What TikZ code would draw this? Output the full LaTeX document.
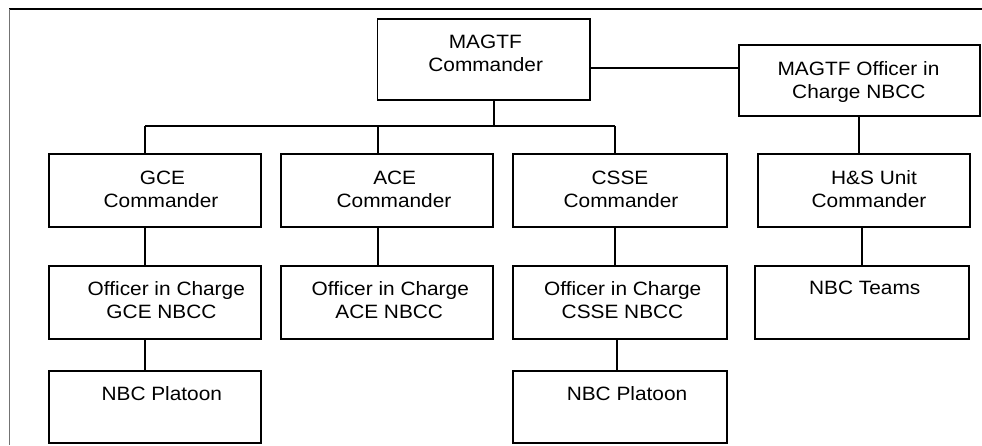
\documentclass[tikz,border=0pt]{standalone}
\usepackage{fontspec}
\newfontfamily\labfont{Liberation Sans}[FakeStretch=1.08]
\begin{document}
\begin{tikzpicture}[x=1pt,y=-1pt,
  box/.style={draw, line width=1.6pt, inner sep=0pt, outer sep=0pt, anchor=north west},
  lab/.style={anchor=base, inner sep=0pt, font=\labfont\fontsize{19.3}{23.4}\selectfont},
  conn/.style={line width=1.4pt}]
\useasboundingbox (0,0) rectangle (982,445);
% frame
\draw[line width=1.4pt] (9,9) -- (982,9);
\draw[line width=1pt, black!55] (9,9) -- (9,445);
% boxes
\node[box, minimum width=212.5pt, minimum height=81pt] (mc) at (377.5,19) {};
\node[box, minimum width=241pt, minimum height=71.3pt] (moic) at (739,44.7) {};
\node[box, minimum width=212pt, minimum height=73pt] (gce) at (49,154) {};
\node[box, minimum width=212pt, minimum height=73pt] (ace) at (281,154) {};
\node[box, minimum width=214pt, minimum height=73pt] (csse) at (512.7,154) {};
\node[box, minimum width=212.3pt, minimum height=73pt] (hs) at (757.7,154) {};
\node[box, minimum width=212pt, minimum height=73pt] (gceo) at (49,266) {};
\node[box, minimum width=212pt, minimum height=73pt] (aceo) at (281,266) {};
\node[box, minimum width=214pt, minimum height=73pt] (csseo) at (512.7,266) {};
\node[box, minimum width=214pt, minimum height=73pt] (teams) at (755,266) {};
\node[box, minimum width=212pt, minimum height=72pt] (gcep) at (49,371) {};
\node[box, minimum width=214pt, minimum height=72pt] (cssep) at (513,371) {};
% texts
\node[lab] (mc1) at (485.3,48.3) {MAGTF};
\node[lab] (mc2) at (485.7,71.7) {Commander};
\node[lab] (moic1) at (858.5,75) {MAGTF Officer in};
\node[lab] (moic2) at (858.8,98.4) {Charge NBCC};
\node[lab] (gce1) at (162.5,184.3) {GCE};
\node[lab] (gce2) at (161,207.7) {Commander};
\node[lab] (ace1) at (394.7,184.3) {ACE};
\node[lab] (ace2) at (394,207.7) {Commander};
\node[lab] (csse1) at (620,184.3) {CSSE};
\node[lab] (csse2) at (621,207.7) {Commander};
\node[lab] (hs1) at (874,184.3) {H\&S Unit};
\node[lab] (hs2) at (869,207.7) {Commander};
\node[lab] (gceo1) at (166.3,295.5) {Officer in Charge};
\node[lab] (gceo2) at (161.5,318.9) {GCE NBCC};
\node[lab] (aceo1) at (390.3,295.5) {Officer in Charge};
\node[lab] (aceo2) at (389.2,318.9) {ACE NBCC};
\node[lab] (csseo1) at (622.7,295.5) {Officer in Charge};
\node[lab] (csseo2) at (622.5,318.9) {CSSE NBCC};
\node[lab] (teams1) at (864.7,294.5) {NBC Teams};
\node[lab] (gcep1) at (161.8,400) {NBC Platoon};
\node[lab] (cssep1) at (627,400) {NBC Platoon};
% junctions
\coordinate (jmc) at (494,126);
\coordinate (jl) at (145,126);
\coordinate (jm) at (378,126);
\coordinate (jr) at (615,126);
\coordinate (jside) at (590,68);
\coordinate (jo) at (859,0);
\coordinate (jh) at (862,0);
\coordinate (jc) at (617,0);
% connectors
\draw[conn] (jside) -- (jside -| moic.west);
\draw[conn] (mc.south -| jmc) -- (jmc);
\draw[conn] (jl) -- (jr);
\draw[conn] (jl) -- (jl |- gce.north);
\draw[conn] (jm) -- (jm |- ace.north);
\draw[conn] (jr) -- (jr |- csse.north);
\draw[conn] (moic.south -| jo) -- (hs.north -| jo);
\draw[conn] (gce.south -| jl) -- (gceo.north -| jl);
\draw[conn] (ace.south -| jm) -- (aceo.north -| jm);
\draw[conn] (csse.south -| jr) -- (csseo.north -| jr);
\draw[conn] (hs.south -| jh) -- (teams.north -| jh);
\draw[conn] (gceo.south -| jl) -- (gcep.north -| jl);
\draw[conn] (csseo.south -| jc) -- (cssep.north -| jc);
\end{tikzpicture}
\end{document}
